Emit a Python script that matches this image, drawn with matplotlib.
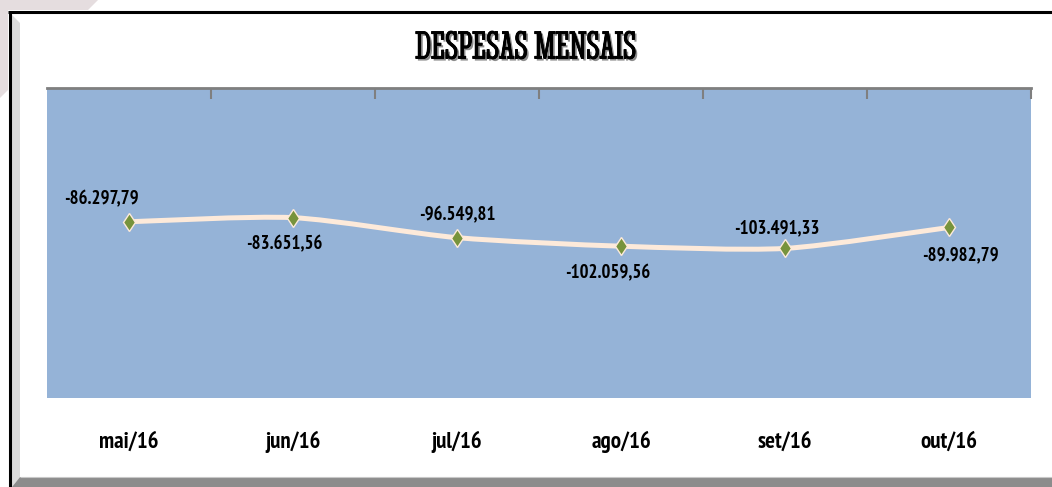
import matplotlib
matplotlib.use("Agg")
import matplotlib.pyplot as plt
from matplotlib.path import Path
from matplotlib.patches import PathPatch, Polygon, Rectangle
import matplotlib.patheffects as pe
import numpy as np

categories = ["mai/16", "jun/16", "jul/16", "ago/16", "set/16", "out/16"]
values = [-86297.79, -83651.56, -96549.81, -102059.56, -103491.33, -89982.79]
value_labels = ["-86.297,79", "-83.651,56", "-96.549,81", "-102.059,56", "-103.491,33", "-89.982,79"]
title = "DESPESAS MENSAIS"

label_offsets_px = [(-28, 22), (-9, -27), (0, 22), (-13, -27), (-8, 20), (11, -28)]

LABEL_FONT = ["PT Sans Narrow", "Roboto Condensed", "DejaVu Sans"]
TITLE_FONT = ["Stint Ultra Condensed", "DejaVu Serif"]

W, H = 1052, 487
fig = plt.figure(figsize=(W / 100, H / 100), dpi=100)
fig.patch.set_facecolor("white")

# background / frame in pixel coords
bg = fig.add_axes([0, 0, 1, 1], zorder=0)
bg.set_xlim(0, W)
bg.set_ylim(H, 0)
bg.axis("off")
bg.add_patch(Polygon([(0, 0), (98, 0), (0, 98)], closed=True, facecolor="#E5DDDF", edgecolor="none"))
bg.add_patch(Rectangle((8, 10), W - 8, H - 10, facecolor="white", edgecolor="none"))
bg.add_patch(Polygon([(12, 15), (20, 23), (20, 477), (12, 487)], closed=True, facecolor="#DCDCDC", edgecolor="none"))
bg.add_patch(Polygon([(12, 487), (20, 477), (W, 477), (W, 487)], closed=True, facecolor="#8C8C8C", edgecolor="none"))
bg.plot([20, W], [477, 477], color="#C8C8C8", lw=0.8, solid_capstyle="butt")
bg.plot([8, W], [11.5, 11.5], color="black", lw=2.2, solid_capstyle="butt")
bg.plot([9.5, 9.5], [10.5, H], color="black", lw=2.2, solid_capstyle="butt")

# plot area
left, right, top, bottom = 47, 1031, 88, 398
ax = fig.add_axes([left / W, 1 - bottom / H, (right - left) / W, (bottom - top) / H], zorder=1)
ax.set_facecolor("#95B3D7")
n = len(categories)
x = np.arange(n)
ax.set_xlim(-0.5, n - 0.5)
ax.set_ylim(-200000, 0)
for s in ["left", "right", "bottom"]:
    ax.spines[s].set_visible(False)
ax.spines["top"].set_color("#7F7F7F")
ax.spines["top"].set_linewidth(2)
ax.xaxis.tick_top()
ax.set_xticks(np.arange(n) + 0.5)
ax.set_xticklabels([])
ax.tick_params(axis="x", direction="in", length=8, width=1.5, color="#7F7F7F")
ax.set_yticks([])

# smooth line (Bezier through data points)
pts = np.column_stack([x, values]).astype(float)
ext = np.vstack([pts[0], pts, pts[-1]])
verts = [tuple(pts[0])]
codes = [Path.MOVETO]
k = 1.0 / 8.0
for i in range(n - 1):
    p0, p1, p2, p3 = ext[i], ext[i + 1], ext[i + 2], ext[i + 3]
    c1 = p1 + (p2 - p0) * k
    c2 = p2 - (p3 - p1) * k
    verts += [tuple(c1), tuple(c2), tuple(p2)]
    codes += [Path.CURVE4] * 3
ax.add_patch(PathPatch(Path(verts, codes), facecolor="none", edgecolor="#FDEADA", lw=3.6, capstyle="round", zorder=3))
ax.plot(x, values, linestyle="none", marker="d", markersize=9.5, markerfacecolor="#77933C",
        markeredgecolor="#FDEADA", markeredgewidth=1.0, zorder=4)

for xi, v, lab, (dx, dy) in zip(x, values, value_labels, label_offsets_px):
    ax.annotate(lab, (xi, v), xytext=(dx, dy), textcoords="offset pixels", ha="center", va="center",
                fontsize=13.5, fontweight="bold", family=LABEL_FONT, color="black", zorder=5)

for xi, c in zip(x, categories):
    ax.text(xi, -0.142, c, transform=ax.get_xaxis_transform(), ha="center", va="center",
            fontsize=16.5, fontweight="bold", family=LABEL_FONT, color="black", clip_on=False)

fig.text(526 / W, 1 - 49 / H, title, ha="center", va="center", fontsize=29,
         family=TITLE_FONT, color="black",
         path_effects=[pe.withSimplePatchShadow(offset=(1.5, -1.5), shadow_rgbFace="#707070", alpha=0.8),
                       pe.withStroke(linewidth=0.6, foreground="black")])

fig.savefig("out.png", dpi=100)
